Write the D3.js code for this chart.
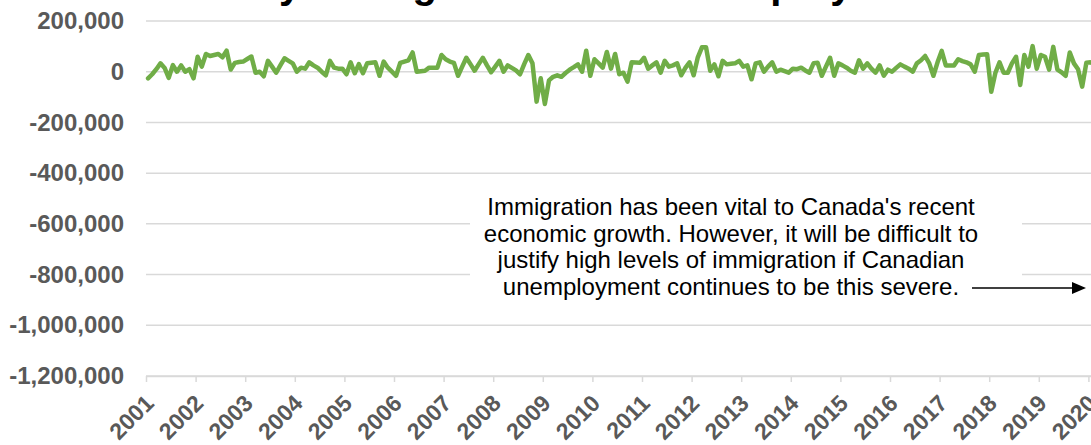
<!DOCTYPE html>
<html><head><meta charset="utf-8">
<script src="https://cdn.jsdelivr.net/npm/d3@7"></script>
<style>
html,body{margin:0;padding:0;background:#fff;}
svg{display:block;font-family:"Liberation Sans",Arial,sans-serif;}
</style></head><body>
<svg id="chart" width="1091" height="445"></svg>
<script>
// Tick labels
const yearLabels = ["2001","2002","2003","2004","2005","2006","2007","2008","2009","2010",
  "2011","2012","2013","2014","2015","2016","2017","2018","2019","2020"];
const yTickValues = [200000, 0, -200000, -400000, -600000, -800000, -1000000, -1200000];

// Monthly change in employment (thousands), Jan..Dec of each year
const v2001 = [-26, -10, 10, 33, 15, -24, 26, 0, 25, 0, 10, -26];
const v2002 = [59, 20, 70, 62, 66, 70, 57, 83, 9, 35, 38, 40];
const v2003 = [50, 60, -4, 0, -18, 43, 20, -4, 25, 53, 43, 33];
const v2004 = [0, 16, 12, 37, 25, 16, 0, -14, 43, 16, 12, 12];
const v2005 = [-10, 37, -6, 30, -6, 33, 35, 37, -16, 40, 16, 0];
const v2006 = [-16, 35, 40, 45, 76, 0, 2, 4, 16, 16, 16, 66];
const v2007 = [49, 40, 35, -16, 20, 55, 30, 4, 30, 55, 25, -2];
const v2008 = [20, 43, 0, 25, 15, 5, -10, 30, 66, 33, -118, -26];
const v2009 = [-127, -34, -20, -14, -20, -5, 8, 18, 29, 0, 83, -16];
const v2010 = [49, 33, 16, 78, 12, 70, -10, -4, -39, 37, 36, 35];
const v2011 = [55, 12, 25, 37, -4, 43, 20, 25, 33, -14, 15, 37];
const v2012 = [-14, 57, 96, 96, 4, 29, -18, 43, 29, 31, 33, 43];
const v2013 = [20, 25, -30, 33, 37, 0, 20, 37, 0, 8, 2, -4];
const v2014 = [12, 10, 16, 5, -4, 33, 35, -16, 20, 55, -16, 33];
const v2015 = [25, 16, 4, -4, 45, 12, 33, 12, -4, 25, -16, 8];
const v2016 = [0, 15, 29, 20, 12, 0, 33, 45, 62, 33, -16, 37];
const v2017 = [82, 25, 25, 25, 49, 42, 37, 29, 0, 66, 68, 69];
const v2018 = [-79, -4, 37, -4, -4, 33, 59, -52, 66, 20, 101, 12];
const v2019 = [66, 59, 8, 98, 8, -2, -16, 76, 33, 10, -59, 35];
const v2020 = [37, 30];

const titleText = "Monthly Change in Canadian Employment";
const noteLines = [
  "Immigration has been vital to Canada's recent",
  "economic growth. However, it will be difficult to",
  "justify high levels of immigration if Canadian",
  "unemployment continues to be this severe."
];

const monthly = [].concat(v2001, v2002, v2003, v2004, v2005, v2006, v2007, v2008, v2009, v2010,
  v2011, v2012, v2013, v2014, v2015, v2016, v2017, v2018, v2019, v2020).map(k => k * 1000);

(function () {
const svg = d3.select("#chart");
const W = 1091;
const pl = 146, pr = 1088.4, pt = 21, pb = 376;

const x = d3.scaleLinear().domain([0, 228]).range([pl, pr]);
const y = d3.scaleLinear().domain([-1200000, 200000]).range([pb, pt]);

const fmt = v => d3.format(",")(v).replace("\u2212", "-");

// gridlines
svg.append("g").selectAll("line").data(yTickValues).join("line")
  .attr("x1", pl).attr("x2", W)
  .attr("y1", d => y(d)).attr("y2", d => y(d))
  .attr("stroke", "#d9d9d9").attr("stroke-width", 1.5);

// y labels
const yAxis = svg.append("g").attr("transform", `translate(${pl - 22},0)`)
  .call(d3.axisLeft(y).tickValues(yTickValues).tickFormat(fmt).tickSize(0).tickPadding(0));
yAxis.select(".domain").remove();
yAxis.selectAll("text").attr("font-size", 24).attr("font-weight", "bold")
  .attr("fill", "#595959").attr("font-family", "Liberation Sans, Arial, sans-serif");

// x axis
const xAxis = svg.append("g").attr("transform", `translate(0,${pb})`)
  .call(d3.axisBottom(x).tickValues(d3.range(0, 229, 12)).tickFormat((d, i) => yearLabels[i]).tickSize(6).tickSizeOuter(0));
xAxis.select(".domain").attr("stroke", "#d9d9d9").attr("stroke-width", 1.5).attr("d", `M${pl},0.5H${W}`);
xAxis.selectAll(".tick line").attr("stroke", "#d9d9d9").attr("stroke-width", 1.5);
xAxis.selectAll("text")
  .attr("font-size", 23).attr("font-weight", "bold").attr("fill", "#595959")
  .attr("font-family", "Liberation Sans, Arial, sans-serif")
  .attr("text-anchor", "end")
  .attr("transform", "translate(3,23) rotate(-45)")
  .attr("dy", "0.35em").attr("y", 0);

// line
const line = d3.line().x((d, i) => x(i + 0.5)).y(d => y(d)).curve(d3.curveLinear);
svg.append("path").datum(monthly)
  .attr("d", line).attr("fill", "none")
  .attr("stroke", "#70ad47").attr("stroke-width", 4.5)
  .attr("stroke-linejoin", "round").attr("stroke-linecap", "round");

// title (cropped at the top)
svg.append("text").attr("x", 148).attr("y", -2)
  .attr("font-size", 40).attr("font-weight", "bold").attr("fill", "#000")
  .text(titleText);

// annotation box
svg.append("rect").attr("x", 470).attr("y", 188).attr("width", 552).attr("height", 115).attr("fill", "#fff");
const note = svg.append("text").attr("text-anchor", "middle").attr("font-size", 24).attr("fill", "#000");
note.selectAll("tspan").data(noteLines).join("tspan")
  .attr("x", 731).attr("y", (d, i) => 215 + i * 26.5).text(d => d);

// arrow
svg.append("line").attr("x1", 972).attr("x2", 1074).attr("y1", 288).attr("y2", 288)
  .attr("stroke", "#000").attr("stroke-width", 1.5);
svg.append("path").attr("d", "M1086,288L1072,282L1072,294Z").attr("fill", "#000");
})();
</script>
</body></html>
